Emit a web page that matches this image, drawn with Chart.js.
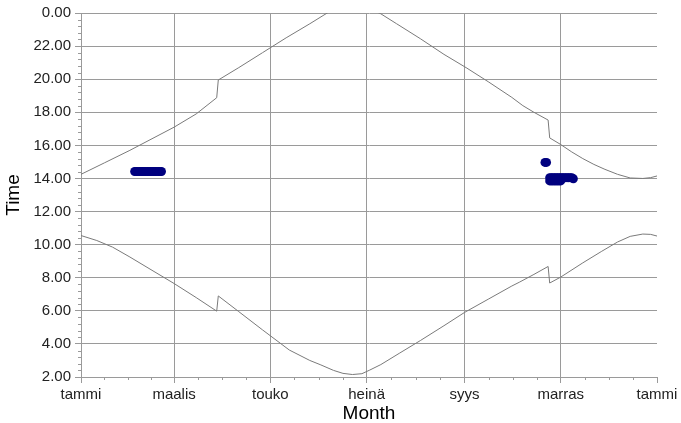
<!DOCTYPE html>
<html lang="fi">
<head>
  <meta charset="UTF-8" />
  <title>Aurinko</title>
  <script src="https://cdn.jsdelivr.net/npm/chart.js"></script>
  <style>
    body { margin: 0; background: #fff; }
    #wrap { width: 681px; height: 423px; }
  </style>
</head>
<body>
  <div id="wrap"><canvas id="chart" width="681" height="423"></canvas></div>

  <script>
    // month ticks (day of year) and their labels
    const monthDays = [0, 59, 120, 181, 243, 304, 365];
    const monthNames = ['tammi', 'maalis', 'touko', 'heinä', 'syys', 'marras', 'tammi'];

    // upper curve (sunset)
    const sunsetDays  = [0, 15, 31, 45, 59, 73, 86, 87, 100, 115, 130, 145, 156, 165, 172, 180, 190, 200, 215, 230, 244, 258, 273, 280, 287, 296, 297, 304, 311, 318, 325, 332, 340, 348, 356, 361, 365];
    const sunsetHours = [14.25, 14.95, 15.7, 16.4, 17.1, 17.9, 18.88, 19.95, 20.7, 21.6, 22.5, 23.35, 24.0, 24.4, 24.55, 24.4, 23.95, 23.35, 22.45, 21.5, 20.7, 19.85, 18.9, 18.4, 18.0, 17.53, 16.45, 16.05, 15.6, 15.2, 14.85, 14.55, 14.25, 14.03, 14.0, 14.05, 14.15];

    // lower curve (sunrise)
    const sunriseDays  = [0, 10, 20, 31, 45, 59, 73, 86, 87, 100, 115, 132, 145, 152, 160, 166, 172, 178, 183, 190, 202, 215, 230, 243, 258, 273, 278, 287, 296, 297, 304, 318, 330, 340, 348, 356, 361, 365];
    const sunriseHours = [10.55, 10.25, 9.85, 9.25, 8.45, 7.65, 6.8, 5.98, 6.9, 5.95, 4.85, 3.63, 3.0, 2.73, 2.4, 2.22, 2.15, 2.2, 2.42, 2.75, 3.45, 4.2, 5.1, 5.9, 6.7, 7.5, 7.74, 8.2, 8.68, 7.68, 8.04, 8.9, 9.6, 10.16, 10.5, 10.64, 10.62, 10.52];

    // observations (dark blue marks)
    const obsDays  = [34, 35, 36, 37, 38, 39, 40, 41, 42, 43, 44, 45, 46, 47, 48, 49, 50, 51, 294, 295, 297, 298, 299, 300, 301, 302, 303, 304, 305, 306, 307, 308, 309, 310, 311, 312, 297, 298, 299, 300, 301, 302, 303, 304];
    const obsHours = [14.42, 14.42, 14.42, 14.42, 14.42, 14.42, 14.42, 14.42, 14.42, 14.42, 14.42, 14.42, 14.42, 14.42, 14.42, 14.42, 14.42, 14.42, 14.97, 14.97, 14.05, 14.05, 14.05, 14.05, 14.05, 14.05, 14.05, 14.05, 14.05, 14.05, 14.05, 14.05, 14.05, 14.05, 14.05, 13.98, 13.85, 13.85, 13.85, 13.85, 13.85, 13.85, 13.85, 13.85];

    const pts = (xs, ys) => xs.map((x, i) => ({ x: x, y: ys[i] }));

    const gridCol = '#9a9a9a';
    const lineCol = '#7a7a7a';
    const fontFam = 'Liberation Sans, Arial, sans-serif';

    // small minor ticks on both axes
    const minorTicks = {
      id: 'minorTicks',
      afterDraw(chart) {
        const c = chart.ctx, xs = chart.scales.x, ys = chart.scales.y;
        c.save();
        c.strokeStyle = gridCol;
        c.lineWidth = 1;
        c.beginPath();
        for (let v = 2; v < 24; v += 2) {
          for (let k = 1; k < 5; k++) {
            const y = Math.round(ys.getPixelForValue(v + k * 0.4)) + 0.5;
            c.moveTo(xs.left - 3, y); c.lineTo(xs.left, y);
          }
        }
        for (let i = 0; i < monthDays.length - 1; i++) {
          const a = monthDays[i], b = monthDays[i + 1];
          for (let k = 1; k < 4; k++) {
            const x = Math.round(xs.getPixelForValue(a + (b - a) * k / 4)) + 0.5;
            c.moveTo(x, ys.bottom); c.lineTo(x, ys.bottom + 3);
          }
        }
        c.stroke();
        c.restore();
      }
    };

    new Chart(document.getElementById('chart'), {
      type: 'line',
      data: {
        datasets: [
          { data: pts(sunsetDays, sunsetHours), borderColor: lineCol, borderWidth: 1, pointRadius: 0, tension: 0, fill: false },
          { data: pts(sunriseDays, sunriseHours), borderColor: lineCol, borderWidth: 1, pointRadius: 0, tension: 0, fill: false },
          { data: pts(obsDays, obsHours), showLine: false, pointRadius: 4.5, pointBackgroundColor: '#00007f', pointBorderWidth: 0, borderColor: '#00007f' }
        ]
      },
      options: {
        responsive: false,
        animation: false,
        layout: { padding: { top: 13, right: 24, left: 0, bottom: 0 } },
        plugins: { legend: { display: false }, tooltip: { enabled: false } },
        scales: {
          x: {
            type: 'linear',
            min: 0,
            max: 365,
            afterBuildTicks: (s) => { s.ticks = monthDays.map(v => ({ value: v })); },
            afterFit: (s) => { s.height = 46; },
            ticks: {
              autoSkip: false,
              maxRotation: 0,
              padding: 3,
              color: '#222',
              font: { family: fontFam, size: 15 },
              callback: (v, i) => monthNames[i]
            },
            grid: {
              color: (ctx) => ctx.tick && ctx.tick.value === 365 ? 'rgba(0,0,0,0)' : gridCol,
              tickColor: gridCol,
              tickLength: 6
            },
            border: { color: gridCol },
            title: {
              display: true,
              text: 'Month',
              color: '#000',
              padding: { top: 0, bottom: 0 },
              font: { family: fontFam, size: 19, lineHeight: 1 }
            }
          },
          y: {
            min: 2,
            max: 24,
            afterFit: (s) => { s.width = 81; },
            ticks: {
              stepSize: 2,
              padding: 4,
              color: '#222',
              font: { family: fontFam, size: 15 },
              callback: (v) => v === 24 ? '0.00' : Number(v).toFixed(2)
            },
            grid: { color: gridCol, tickColor: gridCol, tickLength: 6 },
            border: { color: gridCol },
            title: {
              display: true,
              text: 'Time',
              color: '#000',
              padding: { top: 2, bottom: 0 },
              font: { family: fontFam, size: 19 }
            }
          }
        }
      },
      plugins: [minorTicks]
    });
  </script>
</body>
</html>
